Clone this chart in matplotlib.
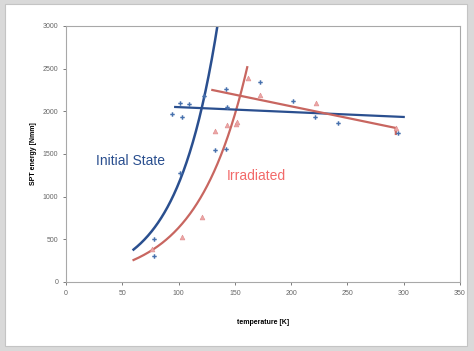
import numpy as np
import matplotlib.pyplot as plt
from matplotlib.patches import Rectangle

plt.rcParams['font.family'] = ['Liberation Sans', 'DejaVu Sans']

# measured SPT energy vs test temperature
init_t = [78, 78, 101, 94, 103, 101, 109, 123, 132, 142, 142, 143, 172, 202, 221, 242, 295]
init_e = [505, 305, 1280, 1970, 1935, 2100, 2090, 2180, 1545, 1560, 2260, 2050, 2340, 2120, 1935, 1865, 1750]

irr_t = [76, 103, 121, 132, 143, 151, 152, 162, 172, 222, 293]
irr_e = [390, 530, 760, 1770, 1840, 1850, 1880, 2390, 2195, 2095, 1800]

# trend lines: exponential lower shelf, linear upper shelf
init_exp_a, init_exp_b = 72.0, 0.02773
irr_exp_a, irr_exp_b = 66.6, 0.02256
init_lin_t = [97, 300]
init_lin_e = [2051, 1934]
irr_lin_t = [130, 293, 293]
irr_lin_e = [2250, 1805, 1735]

blue = '#2a4f8f'
red_line = '#c86660'
red_text = '#f26a6a'

fig = plt.figure(figsize=(4.74, 3.51), dpi=100)
fig.patch.set_facecolor('#d9d9d9')
fig.patches.append(Rectangle((5 / 474, 5 / 351), 462 / 474, 342 / 351,
                             transform=fig.transFigure, facecolor='white',
                             edgecolor='#c4c4c4', lw=0.8, zorder=-10))

ax = fig.add_axes([66 / 474, 1 - 282 / 351, 394 / 474, 256 / 351])
ax.set_zorder(5)
ax.set_facecolor('white')

t1 = np.linspace(60, 140, 200)
ax.plot(t1, init_exp_a * np.exp(init_exp_b * t1), color=blue, lw=1.8)
t2 = np.linspace(60, 161, 200)
ax.plot(t2, irr_exp_a * np.exp(irr_exp_b * t2), color=red_line, lw=1.6)
ax.plot(init_lin_t, init_lin_e, color=blue, lw=1.6)
ax.plot(irr_lin_t, irr_lin_e, color=red_line, lw=1.6)

ax.plot(init_t, init_e, ls='none', marker='P', ms=3.2, color='#4670ad', mew=0)
ax.plot(irr_t, irr_e, ls='none', marker='^', ms=3.5, color='#eca6a6',
        mec='#de8a8a', mew=0.4)

ax.text(57.5, 1418, 'Initial State', color=blue, fontsize=10,
        ha='center', va='center')
ax.text(169, 1242, 'Irradiated', color=red_text, fontsize=10,
        ha='center', va='center')

ax.set_xlim(0, 350)
ax.set_ylim(0, 3000)
ax.set_xticks(range(0, 351, 50))
ax.set_yticks(range(0, 3001, 500))
ax.tick_params(labelsize=5, colors='#666666', length=2, width=0.6)
for s in ax.spines.values():
    s.set_color('#a8a8a8')
    s.set_linewidth(0.8)

ax.set_xlabel('temperature [K]', fontsize=5, fontweight='bold', labelpad=16)
ax.set_ylabel('SPT energy [Nmm]', fontsize=5, fontweight='bold', labelpad=4)

fig.savefig('out.png', dpi=100, facecolor=fig.get_facecolor())
